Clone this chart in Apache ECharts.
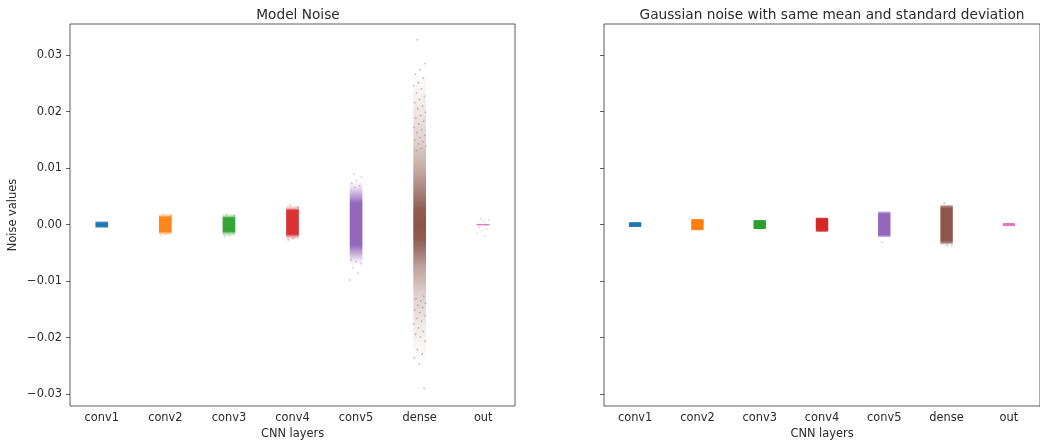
<!DOCTYPE html>
<html><head><meta charset="utf-8">
<script src="https://cdn.jsdelivr.net/npm/echarts@6/dist/echarts.min.js"></script>
<style>html,body{margin:0;padding:0;background:#fff}#c{width:1040px;height:446px}</style>
</head><body><div id="c"></div>
<script>
const categories = ['conv1', 'conv2', 'conv3', 'conv4', 'conv5', 'dense', 'out'];
const colors = ['#1f77b4', '#ff7f0e', '#2ca02c', '#d62728', '#9467bd', '#8c564b', '#e377c2'];
const yTicks = [-0.03, -0.02, -0.01, 0, 0.01, 0.02, 0.03];

// Density profiles read from the strips: [value, relative density]
const modelConv1 = [[0.00065, 0], [0.00045, 0.7], [0.0003, 1], [-0.0003, 1], [-0.00045, 0.7], [-0.00065, 0]];
const modelConv2 = [[0.0020, 0], [0.0016, 0.4], [0.0013, 0.95], [-0.0013, 0.95], [-0.0015, 0.4], [-0.0019, 0]];
const modelConv3 = [[0.0019, 0], [0.0015, 0.35], [0.0012, 0.95], [-0.0012, 0.95], [-0.0016, 0.35], [-0.0021, 0]];
const modelConv4 = [[0.0034, 0], [0.0029, 0.3], [0.0025, 0.95], [-0.0017, 0.95], [-0.0022, 0.3], [-0.0027, 0]];
const modelConv5 = [[0.0078, 0], [0.0066, 0.2], [0.0048, 0.7], [0.0038, 1], [-0.0036, 1], [-0.0046, 0.7], [-0.0062, 0.2], [-0.0072, 0]];
const modelDense = [[0.0268, 0], [0.022, 0.1], [0.0144, 0.28], [0.009, 0.55], [0.005, 0.8], [0.0025, 0.97], [0, 1],
                    [-0.0025, 0.97], [-0.005, 0.78], [-0.0076, 0.55], [-0.0123, 0.28], [-0.018, 0.12], [-0.0247, 0]];
const modelOut = [[0.00022, 0], [0.00008, 1], [-0.00008, 1], [-0.00022, 0]];

const gaussConv1 = [[0.0005, 0], [0.0004, 0.8], [0.0003, 1], [-0.0003, 1], [-0.0004, 0.8], [-0.0005, 0]];
const gaussConv2 = [[0.00108, 0], [0.00095, 0.8], [0.0008, 1], [-0.0008, 1], [-0.00095, 0.8], [-0.00108, 0]];
const gaussConv3 = [[0.00088, 0], [0.00078, 0.8], [0.0007, 1], [-0.0007, 1], [-0.00078, 0.8], [-0.00088, 0]];
const gaussConv4 = [[0.0013, 0], [0.0012, 0.8], [0.001, 1], [-0.001, 1], [-0.0012, 0.8], [-0.0013, 0]];
const gaussConv5 = [[0.0024, 0], [0.0021, 0.8], [0.0019, 1], [-0.0018, 1], [-0.0020, 0.8], [-0.0023, 0]];
const gaussDense = [[0.0036, 0], [0.0032, 0.75], [0.0029, 1], [-0.0028, 1], [-0.0032, 0.75], [-0.0036, 0]];
const gaussOut = [[0.00035, 0], [0.00028, 0.9], [0.0002, 1], [-0.0002, 1], [-0.00028, 0.9], [-0.00035, 0]];

// Sparse individual points in the tails: values per layer
const modelConv2Tail = [0.0019, 0.0017, -0.0017, -0.0018];
const modelConv3Tail = [0.0018, 0.0016, -0.0019, -0.0021];
const modelConv4Tail = [0.0034, 0.0031, -0.0024, -0.0027];
const modelConv5Tail = [0.0090, 0.0084, 0.0078, 0.0073, 0.0069, 0.0066, -0.0098, -0.0086, -0.0076, -0.0069, -0.0065, -0.0062];
const modelDenseTail = [0.0327, 0.0285, 0.0274, 0.0266, 0.0259, 0.0251, 0.0246, 0.0240, 0.0233, 0.0227, 0.0221, 0.0216,
                        0.0210, 0.0205, 0.0199, 0.0193, 0.0188, 0.0183, 0.0178, 0.0172, 0.0168, 0.0163,
                        0.0158, 0.0154, 0.0150, 0.0147, 0.0143, 0.0139, 0.0135, 0.0131,
                        -0.0290, -0.0247, -0.0236, -0.0229, -0.0221, -0.0206, -0.0199, -0.0194, -0.0189, -0.0183,
                        -0.0176, -0.0171, -0.0166, -0.0161, -0.0156, -0.0151, -0.0147, -0.0143, -0.0139,
                        -0.0135, -0.0131, -0.0127];
const modelOutTail = [0.0010, 0.0008, 0.0006, -0.0005, -0.0008, -0.0011, -0.0015, -0.0020];
const gaussConv5Tail = [-0.0031];
const gaussDenseTail = [0.0038, -0.0038, -0.0037];

const modelProfiles = [modelConv1, modelConv2, modelConv3, modelConv4, modelConv5, modelDense, modelOut];
const gaussProfiles = [gaussConv1, gaussConv2, gaussConv3, gaussConv4, gaussConv5, gaussDense, gaussOut];
const modelTails = [[], modelConv2Tail, modelConv3Tail, modelConv4Tail, modelConv5Tail, modelDenseTail, modelOutTail];
const gaussTails = [[], [], [], [], gaussConv5Tail, gaussDenseTail, []];

function rgba(hex, a) {
  const n = parseInt(hex.slice(1), 16);
  return 'rgba(' + (n >> 16) + ',' + ((n >> 8) & 255) + ',' + (n & 255) + ',' + a + ')';
}
const JIT = 0.1; // half jitter width in category units

function bandRender(profiles, radius) {
  return function (params, api) {
    const i = api.value(0);
    const prof = profiles[i];
    const top = prof[0][0], bot = prof[prof.length - 1][0];
    const pTop = api.coord([i, top]);
    const pBot = api.coord([i, bot]);
    const bw = api.size([1, 0])[0];
    const hw = bw * JIT;
    const stops = prof.map(function (p) {
      return { offset: (top - p[0]) / (top - bot), color: rgba(colors[i], p[1]) };
    });
    return {
      type: 'rect',
      shape: { x: pTop[0] - hw, y: pTop[1], width: hw * 2, height: Math.max(pBot[1] - pTop[1], 1), r: radius },
      style: { fill: new echarts.graphic.LinearGradient(0, 0, 0, 1, stops) }
    };
  };
}
function pointRender(params, api) {
  const i = api.value(0), v = api.value(1), k = api.value(2);
  const c = api.coord([i, v]);
  const bw = api.size([1, 0])[0];
  const off = (((k * 0.6180339 + 0.31) % 1) - 0.5) * 2 * JIT * bw;
  return {
    type: 'circle',
    shape: { cx: c[0] + off, cy: c[1], r: 0.9 },
    style: { fill: rgba(colors[i], 0.4) }
  };
}
function tailData(tails) {
  const out = [];
  tails.forEach(function (arr, i) { arr.forEach(function (v, k) { out.push([i, v, k]); }); });
  return out;
}

const FONT = 'DejaVu Sans';
const TXT = '#2a2a2a';
const FS = 11.4;
const fmt = function (v) { return v.toFixed(2).replace('-', '\u2212'); };

function xAxis(gi) {
  return {
    type: 'category', gridIndex: gi, data: categories, boundaryGap: true,
    name: 'CNN layers', nameLocation: 'middle', nameGap: 22,
    nameTextStyle: { fontFamily: FONT, fontSize: FS, color: TXT },
    axisLine: { show: false },
    axisTick: { alignWithLabel: true, length: 4, lineStyle: { color: '#333', width: 0.8 } },
    axisLabel: { fontFamily: FONT, fontSize: FS, color: TXT, margin: 7 },
    splitLine: { show: false }
  };
}
function yAxis(gi, labels) {
  const a = {
    type: 'value', gridIndex: gi, min: -0.0321, max: 0.0355,
    axisLine: { show: false },
    axisTick: { show: true, length: 4, customValues: yTicks, lineStyle: { color: '#333', width: 0.8 } },
    axisLabel: { show: labels, customValues: yTicks, formatter: fmt, fontFamily: FONT, fontSize: FS, color: TXT, margin: 8 },
    splitLine: { show: false }
  };
  if (labels) {
    a.name = 'Noise values';
    a.nameLocation = 'middle';
    a.nameRotate = 90;
    a.nameGap = 51;
    a.nameTextStyle = { fontFamily: FONT, fontSize: FS, color: TXT };
  }
  return a;
}

const chart = echarts.init(document.getElementById('c'), null, { renderer: 'canvas' });
chart.setOption({
  animation: false,
  backgroundColor: '#fff',
  title: [
    { text: 'Model Noise', left: 293, top: 3, textAlign: 'center',
      textStyle: { fontFamily: FONT, fontSize: 13.7, fontWeight: 'normal', color: TXT } },
    { text: 'Gaussian noise with same mean and standard deviation', left: 827, top: 3, textAlign: 'center',
      textStyle: { fontFamily: FONT, fontSize: 13.7, fontWeight: 'normal', color: TXT } }
  ],
  grid: [
    { left: 70, top: 24, width: 445, height: 382, show: true, borderColor: '#333', borderWidth: 0.8, backgroundColor: 'transparent' },
    { left: 604, top: 24, width: 446, height: 382, show: true, borderColor: '#333', borderWidth: 0.8, backgroundColor: 'transparent' }
  ],
  xAxis: [xAxis(0), xAxis(1)],
  yAxis: [yAxis(0, true), yAxis(1, false)],
  series: [
    { type: 'custom', xAxisIndex: 0, yAxisIndex: 0, renderItem: bandRender(modelProfiles, 0),
      data: categories.map(function (c, i) { return [i]; }), clip: false },
    { type: 'custom', xAxisIndex: 0, yAxisIndex: 0, renderItem: pointRender, data: tailData(modelTails), clip: false },
    { type: 'custom', xAxisIndex: 1, yAxisIndex: 1, renderItem: bandRender(gaussProfiles, 1.5),
      data: categories.map(function (c, i) { return [i]; }), clip: false },
    { type: 'custom', xAxisIndex: 1, yAxisIndex: 1, renderItem: pointRender, data: tailData(gaussTails), clip: false }
  ]
});
</script></body></html>
